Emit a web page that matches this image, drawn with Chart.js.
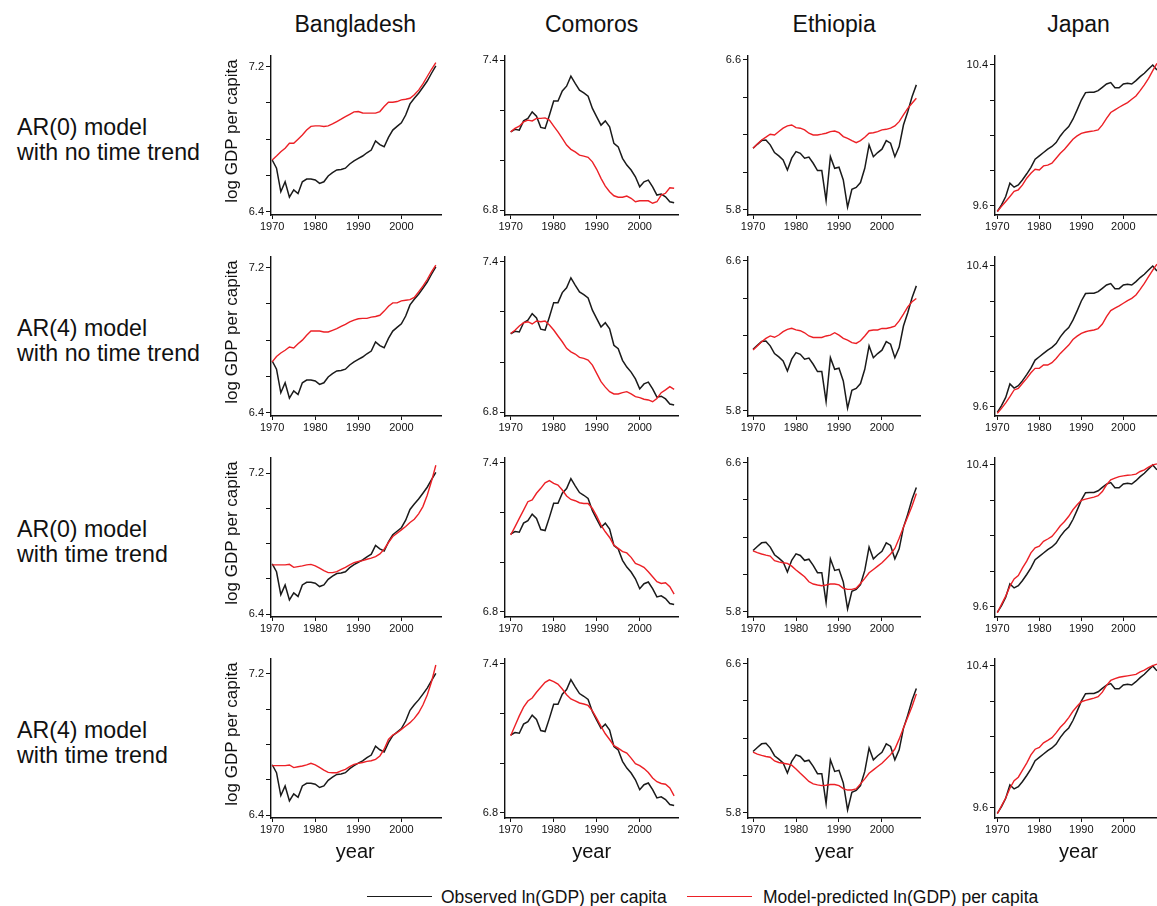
<!DOCTYPE html>
<html><head><meta charset="utf-8">
<script src="https://cdn.jsdelivr.net/npm/chart.js@4.4.1/dist/chart.umd.min.js"></script>
<style>
html,body{margin:0;padding:0;background:#fff;overflow:hidden;width:1157px;height:906px;}
body{position:relative;font-family:"Liberation Sans",Arial,Helvetica,sans-serif;color:#111;}
.t{position:absolute;white-space:nowrap;}
canvas{position:absolute;}
</style></head><body>
<script>
// ---------- data ----------
const years = [1970,1971,1972,1973,1974,1975,1976,1977,1978,1979,1980,1981,1982,1983,1984,1985,1986,1987,1988,1989,1990,1991,1992,1993,1994,1995,1996,1997,1998,1999,2000,2001,2002,2003,2004,2005,2006,2007,2008];
const countries = ['Bangladesh','Comoros','Ethiopia','Japan'];
const modelLabels = [['AR(0) model','with no time trend'],['AR(4) model','with no time trend'],['AR(0) model','with time trend'],['AR(4) model','with time trend']];
const xTicks = [1970,1980,1990,2000];
const yTicksBangladesh = [6.4,6.6,6.8,7.0,7.2];
const yTicksComoros = [6.8,7.0,7.2,7.4];
const yTicksEthiopia = [5.8,6.0,6.2,6.4,6.6];
const yTicksJapan = [9.6,9.8,10.0,10.2,10.4];
const yAxisTitle = 'log GDP per capita';
const xAxisTitle = 'year';
const legendObserved = 'Observed ln(GDP) per capita';
const legendPredicted = 'Model-predicted ln(GDP) per capita';

const obsBangladesh = [6.685,6.64,6.51,6.565,6.48,6.52,6.50,6.565,6.58,6.58,6.575,6.556,6.565,6.597,6.615,6.63,6.633,6.64,6.663,6.68,6.694,6.707,6.725,6.74,6.79,6.77,6.758,6.81,6.85,6.87,6.89,6.933,6.994,7.025,7.053,7.086,7.12,7.163,7.204];
const predBangladeshAR0 = [6.685,6.707,6.73,6.75,6.777,6.777,6.8,6.823,6.85,6.87,6.873,6.873,6.87,6.873,6.884,6.897,6.91,6.924,6.937,6.95,6.952,6.944,6.943,6.943,6.943,6.952,6.98,7.003,7.003,7.007,7.016,7.02,7.025,7.044,7.07,7.104,7.145,7.185,7.222];
const predBangladeshAR4 = [6.68,6.71,6.729,6.744,6.762,6.757,6.78,6.8,6.827,6.85,6.85,6.85,6.845,6.845,6.854,6.863,6.876,6.887,6.9,6.91,6.918,6.92,6.92,6.927,6.93,6.937,6.96,6.987,7.005,7.005,7.016,7.02,7.023,7.035,7.066,7.097,7.134,7.176,7.213];
const predBangladeshAR0Trend = [6.679,6.679,6.679,6.679,6.682,6.665,6.669,6.673,6.679,6.682,6.673,6.66,6.646,6.635,6.635,6.641,6.654,6.665,6.679,6.692,6.698,6.703,6.711,6.717,6.726,6.741,6.768,6.806,6.84,6.859,6.878,6.897,6.92,6.938,6.969,7.01,7.075,7.155,7.245];
const predBangladeshAR4Trend = [6.68,6.68,6.68,6.68,6.684,6.669,6.674,6.678,6.684,6.693,6.684,6.67,6.655,6.642,6.64,6.64,6.65,6.659,6.674,6.687,6.693,6.698,6.704,6.708,6.716,6.735,6.773,6.829,6.854,6.867,6.886,6.905,6.924,6.948,6.98,7.024,7.081,7.156,7.251];

const obsComoros = [7.113,7.123,7.12,7.157,7.167,7.193,7.176,7.131,7.127,7.18,7.237,7.237,7.277,7.296,7.336,7.307,7.28,7.269,7.256,7.207,7.173,7.14,7.157,7.133,7.067,7.053,7.007,6.98,6.96,6.933,6.893,6.913,6.92,6.893,6.86,6.864,6.853,6.833,6.829];
const predComorosAR0 = [7.113,7.127,7.136,7.153,7.16,7.157,7.167,7.167,7.169,7.16,7.136,7.113,7.087,7.06,7.043,7.033,7.02,7.016,7.011,6.993,6.963,6.927,6.896,6.873,6.857,6.851,6.851,6.856,6.847,6.833,6.837,6.837,6.837,6.827,6.833,6.86,6.867,6.889,6.887];
const predComorosAR4 = [7.114,7.127,7.144,7.157,7.161,7.152,7.164,7.161,7.164,7.148,7.128,7.104,7.081,7.055,7.041,7.032,7.019,7.015,7.008,6.988,6.955,6.922,6.9,6.882,6.873,6.873,6.878,6.882,6.873,6.862,6.858,6.852,6.849,6.842,6.855,6.878,6.889,6.902,6.891];
const predComorosAR0Trend = [7.109,7.142,7.176,7.209,7.243,7.25,7.277,7.297,7.319,7.328,7.317,7.31,7.29,7.266,7.252,7.247,7.239,7.236,7.236,7.216,7.185,7.149,7.122,7.099,7.068,7.055,7.042,7.037,7.019,6.995,6.988,6.979,6.961,6.941,6.921,6.914,6.917,6.901,6.871];
const predComorosAR4Trend = [7.11,7.15,7.19,7.225,7.25,7.262,7.285,7.305,7.325,7.335,7.328,7.318,7.298,7.275,7.258,7.25,7.242,7.238,7.232,7.21,7.18,7.148,7.118,7.095,7.07,7.06,7.048,7.04,7.02,6.998,6.99,6.978,6.962,6.94,6.925,6.918,6.915,6.9,6.868];

const obsEthiopia = [6.129,6.15,6.17,6.173,6.147,6.106,6.088,6.067,6.013,6.076,6.111,6.102,6.076,6.082,6.049,6.01,6.01,5.85,6.084,6.022,6.028,5.96,5.815,5.91,5.92,5.946,6.022,6.147,6.084,6.106,6.124,6.17,6.156,6.084,6.138,6.253,6.324,6.404,6.467];
const predEthiopiaAR0 = [6.129,6.152,6.173,6.188,6.204,6.2,6.218,6.236,6.248,6.253,6.239,6.236,6.227,6.209,6.2,6.2,6.204,6.209,6.218,6.221,6.212,6.191,6.182,6.17,6.159,6.17,6.188,6.209,6.212,6.218,6.227,6.23,6.236,6.248,6.271,6.307,6.342,6.369,6.396];
const predEthiopiaAR4 = [6.125,6.146,6.169,6.187,6.2,6.193,6.205,6.223,6.235,6.241,6.232,6.228,6.217,6.2,6.192,6.192,6.192,6.2,6.204,6.217,6.204,6.187,6.178,6.164,6.16,6.174,6.2,6.228,6.232,6.232,6.24,6.24,6.245,6.252,6.28,6.316,6.355,6.382,6.4];
const predEthiopiaAR0Trend = [6.127,6.117,6.11,6.104,6.099,6.074,6.068,6.063,6.06,6.045,6.024,6.006,5.988,5.961,5.949,5.944,5.94,5.944,5.949,5.949,5.944,5.926,5.92,5.92,5.926,5.952,5.979,6.009,6.027,6.045,6.063,6.086,6.11,6.14,6.194,6.253,6.31,6.367,6.435];
const predEthiopiaAR4Trend = [6.125,6.115,6.108,6.102,6.098,6.078,6.07,6.066,6.062,6.055,6.035,6.012,5.99,5.968,5.955,5.95,5.946,5.948,5.952,5.952,5.946,5.93,5.922,5.922,5.928,5.955,5.982,6.012,6.03,6.048,6.066,6.088,6.112,6.142,6.195,6.255,6.312,6.37,6.438];

const obsJapan = [9.568,9.606,9.653,9.729,9.706,9.719,9.748,9.782,9.819,9.865,9.884,9.903,9.922,9.937,9.959,9.997,10.027,10.05,10.092,10.145,10.201,10.243,10.245,10.245,10.254,10.273,10.292,10.3,10.271,10.271,10.292,10.296,10.292,10.311,10.334,10.353,10.377,10.4,10.372];
const predJapanAR0 = [9.568,9.597,9.625,9.653,9.682,9.691,9.719,9.757,9.785,9.808,9.804,9.827,9.831,9.842,9.87,9.899,9.922,9.95,9.978,9.997,10.012,10.018,10.022,10.026,10.031,10.06,10.097,10.13,10.145,10.16,10.173,10.186,10.205,10.224,10.254,10.287,10.324,10.368,10.409];
const predJapanAR4 = [9.562,9.59,9.622,9.657,9.695,9.704,9.733,9.761,9.793,9.818,9.818,9.837,9.837,9.85,9.874,9.903,9.926,9.95,9.982,10.001,10.017,10.026,10.032,10.036,10.044,10.07,10.112,10.146,10.16,10.173,10.188,10.203,10.216,10.235,10.267,10.301,10.339,10.377,10.411];
const predJapanAR0Trend = [9.566,9.613,9.66,9.716,9.757,9.776,9.819,9.857,9.904,9.932,9.941,9.969,9.982,9.997,10.025,10.057,10.081,10.11,10.147,10.175,10.2,10.207,10.213,10.218,10.226,10.25,10.288,10.316,10.325,10.334,10.338,10.342,10.344,10.348,10.363,10.372,10.387,10.4,10.406];
const predJapanAR4Trend = [9.566,9.61,9.655,9.71,9.752,9.772,9.812,9.852,9.898,9.93,9.94,9.966,9.98,9.995,10.022,10.054,10.078,10.108,10.144,10.172,10.198,10.206,10.212,10.218,10.226,10.252,10.29,10.318,10.328,10.336,10.34,10.344,10.348,10.352,10.366,10.376,10.39,10.402,10.41];

// ---------- assembly ----------
const observed = [obsBangladesh, obsComoros, obsEthiopia, obsJapan];
const predicted = [
  [predBangladeshAR0, predComorosAR0, predEthiopiaAR0, predJapanAR0],
  [predBangladeshAR4, predComorosAR4, predEthiopiaAR4, predJapanAR4],
  [predBangladeshAR0Trend, predComorosAR0Trend, predEthiopiaAR0Trend, predJapanAR0Trend],
  [predBangladeshAR4Trend, predComorosAR4Trend, predEthiopiaAR4Trend, predJapanAR4Trend]
];
const yTicks = [yTicksBangladesh, yTicksComoros, yTicksEthiopia, yTicksJapan];

// ---------- layout (styling only) ----------
const colLayout = [
  {axisX:270.5, width:169.5, xmin:1969.72, xmax:2009.2},
  {axisX:505,   width:173.3, xmin:1968.68, xmax:2008.9},
  {axisX:748.3, width:171.7, xmin:1968.83, xmax:2008.85},
  {axisX:995,   width:167,   xmin:1969.45, xmax:2009.2}
];
const rowTop = [56,257,458,659];
const plotH = 159;
const yRange = [
  [[6.382,7.258],[6.382,7.258],[6.383,7.286],[6.383,7.285]],
  [[6.78,7.417],[6.785,7.419],[6.779,7.419],[6.779,7.419]],
  [[5.773,6.621],[5.773,6.621],[5.772,6.625],[5.772,6.625]],
  [[9.548,10.451],[9.547,10.451],[9.542,10.439],[9.542,10.439]]
];
const colCenters = colLayout.map(L => L.axisX + L.width/2);
const BLACK = '#1a1a1a', RED = '#ec2026';
const FONT = '"Liberation Sans", Arial, sans-serif';

function addText(txt, css) {
  const d = document.createElement('div');
  d.className = 't';
  d.textContent = txt;
  Object.assign(d.style, css);
  document.body.appendChild(d);
  return d;
}

function makePanel(r, c) {
  const L = colLayout[c];
  const padTop = 10, leftW = 40, bottomH = 22, rightPad = 4;
  const cw = Math.round(L.width + leftW + rightPad), ch = plotH + padTop + bottomH;
  const cv = document.createElement('canvas');
  cv.width = cw; cv.height = ch;
  cv.style.width = cw + 'px'; cv.style.height = ch + 'px';
  cv.style.left = (L.axisX - leftW) + 'px';
  cv.style.top = (rowTop[r] - padTop) + 'px';
  document.body.appendChild(cv);
  const yt = yTicks[c];
  new Chart(cv, {
    type: 'line',
    data: {
      datasets: [
        {label: legendObserved, data: years.map((y,i)=>({x:y, y:observed[c][i]})), borderColor: BLACK, borderWidth: 1.5, pointRadius: 0, tension: 0, order: 1, fill: false},
        {label: legendPredicted, data: years.map((y,i)=>({x:y, y:predicted[r][c][i]})), borderColor: RED, borderWidth: 1.4, pointRadius: 0, tension: 0, order: 0, fill: false}
      ]
    },
    options: {
      responsive: false, animation: false, devicePixelRatio: 1,
      layout: {padding: {top: padTop, right: rightPad, left: 0, bottom: 0}},
      plugins: {legend: {display: false}, tooltip: {enabled: false}},
      scales: {
        x: {
          type: 'linear', min: L.xmin, max: L.xmax,
          afterBuildTicks: s => { s.ticks = xTicks.map(v => ({value: v})); },
          afterFit: s => { s.height = bottomH; },
          ticks: {callback: v => String(v), font: {family: FONT, size: 11}, color: '#111', padding: 1, maxRotation: 0, autoSkip: false},
          grid: {drawOnChartArea: false, drawTicks: true, tickLength: 4, color: '#111', lineWidth: 1},
          border: {display: true, color: '#111', width: 1.4}
        },
        y: {
          min: yRange[c][r][0], max: yRange[c][r][1],
          afterBuildTicks: s => { s.ticks = yt.map(v => ({value: v})); },
          afterFit: s => { s.width = leftW; },
          ticks: {callback: (v, i, arr) => (i === 0 || i === arr.length - 1) ? Number(v).toFixed(1) : '', font: {family: FONT, size: 11}, color: '#111', padding: 2, autoSkip: false},
          grid: {drawOnChartArea: false, drawTicks: true, tickLength: 5, color: '#111', lineWidth: 1},
          border: {display: true, color: '#111', width: 1.4}
        }
      }
    }
  });
}

for (let r = 0; r < 4; r++) for (let c = 0; c < 4; c++) makePanel(r, c);

// column titles
countries.forEach((name, c) => addText(name, {left: colCenters[c] + 'px', top: '11px', transform: 'translateX(-50%)', fontSize: '23px', lineHeight: '26px'}));
// row labels
modelLabels.forEach((lines, r) => {
  const d = addText('', {left: '17px', top: (115 + 201*r) + 'px', fontSize: '23.2px', lineHeight: '24.5px'});
  d.innerHTML = lines[0] + '<br>' + lines[1];
});
// y-axis titles (first column)
for (let r = 0; r < 4; r++) {
  addText(yAxisTitle, {left: (231.5 - 90) + 'px', top: (rowTop[r] + 75 - 11) + 'px', width: '180px', height: '22px', lineHeight: '22px', textAlign: 'center', fontSize: '17px', transform: 'rotate(-90deg)', transformOrigin: '50% 50%'});
}
// x-axis titles (bottom row)
colCenters.forEach(cx => addText(xAxisTitle, {left: cx + 'px', top: '839px', transform: 'translateX(-50%)', fontSize: '20px', lineHeight: '24px'}));
// legend
const lg1 = document.createElement('div'); Object.assign(lg1.style, {position:'absolute', left:'367px', top:'896px', width:'65px', height:'1.4px', background: BLACK}); document.body.appendChild(lg1);
addText(legendObserved, {left: '441px', top: '886px', fontSize: '17.5px', lineHeight: '22px'});
const lg2 = document.createElement('div'); Object.assign(lg2.style, {position:'absolute', left:'687px', top:'896px', width:'65px', height:'1.4px', background: RED}); document.body.appendChild(lg2);
addText(legendPredicted, {left: '763px', top: '886px', fontSize: '17.5px', lineHeight: '22px'});
</script>
</body></html>
